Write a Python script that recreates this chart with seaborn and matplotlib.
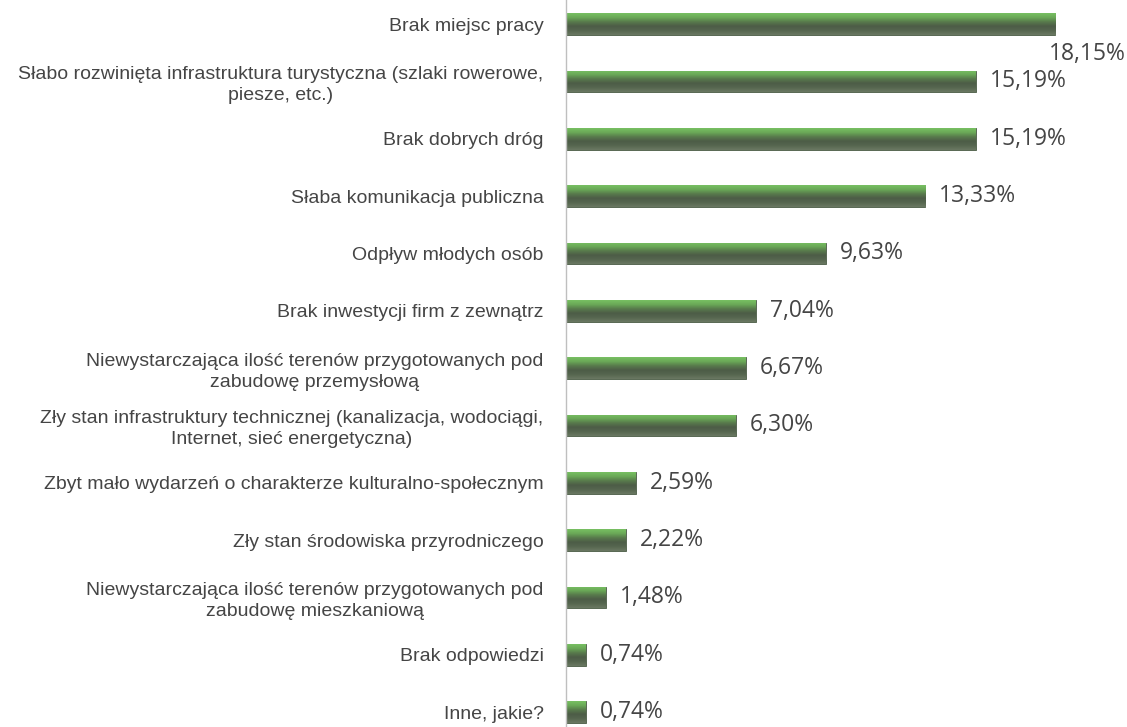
import numpy as np
import pandas as pd
import matplotlib
matplotlib.use("Agg")
import matplotlib.pyplot as plt
from matplotlib.colors import LinearSegmentedColormap
import seaborn as sns

categories = [
    "Brak miejsc pracy",
    "Słabo rozwinięta infrastruktura turystyczna (szlaki rowerowe,\npiesze, etc.)",
    "Brak dobrych dróg",
    "Słaba komunikacja publiczna",
    "Odpływ młodych osób",
    "Brak inwestycji firm z zewnątrz",
    "Niewystarczająca ilość terenów przygotowanych pod\nzabudowę przemysłową",
    "Zły stan infrastruktury technicznej (kanalizacja, wodociągi,\nInternet, sieć energetyczna)",
    "Zbyt mało wydarzeń o charakterze kulturalno-społecznym",
    "Zły stan środowiska przyrodniczego",
    "Niewystarczająca ilość terenów przygotowanych pod\nzabudowę mieszkaniową",
    "Brak odpowiedzi",
    "Inne, jakie?",
]
values = [18.15, 15.19, 15.19, 13.33, 9.63, 7.04, 6.67, 6.30, 2.59, 2.22, 1.48, 0.74, 0.74]

df = pd.DataFrame({"kategoria": categories, "procent": values})

sns.set_theme(style="white")
plt.rcParams["font.family"] = ["Liberation Sans", "DejaVu Sans"]

fig = plt.figure(figsize=(11.27, 7.27), dpi=100)
ax = fig.add_axes([0.502, 0.0, 0.498, 1.0])

sns.barplot(data=df, y="kategoria", x="procent", orient="h", ax=ax,
            color="#5f8f52", width=0.38, edgecolor="#4b5a46", linewidth=0.6)

# cylinder-like shading: bright green top, dark grey-green below
grad = LinearSegmentedColormap.from_list(
    "bar", ["#78c062", "#6aa857", "#587a4c", "#4d5c47", "#56664f", "#6a7862"])
for p in ax.patches:
    x0, y0 = p.get_x(), p.get_y()
    w, h = p.get_width(), p.get_height()
    im = ax.imshow(np.linspace(0, 1, 64).reshape(-1, 1), cmap=grad, aspect="auto",
                   extent=[x0, x0 + w, y0 + h, y0], zorder=p.get_zorder() + 0.1,
                   interpolation="bilinear")
    im.set_clip_path(p)

ax.set_xlim(0, 20.8)
ax.set_ylim(12.26, -0.42)

# value labels (the longest one does not fit beside its bar, so it sits below)
lbl_font = ["Open Sans", "DejaVu Sans"]
for i, v in enumerate(values):
    txt = f"{v:.2f}%".replace(".", ",")
    if i == 0:
        ax.text(0.997, i + 0.52, txt, transform=ax.get_yaxis_transform(),
                ha="right", va="center", fontsize=16.5, color="#454545",
                family=lbl_font)
    else:
        ax.annotate(txt, (v, i), xytext=(10, 0), textcoords="offset points",
                    ha="left", va="center", fontsize=16.5, color="#454545",
                    family=lbl_font)

ax.set_xlabel("")
ax.set_ylabel("")
ax.set_xticks([])
ax.tick_params(axis="y", length=0, pad=16, labelsize=14, labelcolor="#454545")
for t in ax.get_yticklabels():
    t.set_multialignment("center")
    t.set_linespacing(1.3)

for s in ["top", "right", "bottom"]:
    ax.spines[s].set_visible(False)
ax.spines["left"].set_color("#bfbfbf")
ax.spines["left"].set_linewidth(1.0)

fig.savefig("out.png", dpi=100)
